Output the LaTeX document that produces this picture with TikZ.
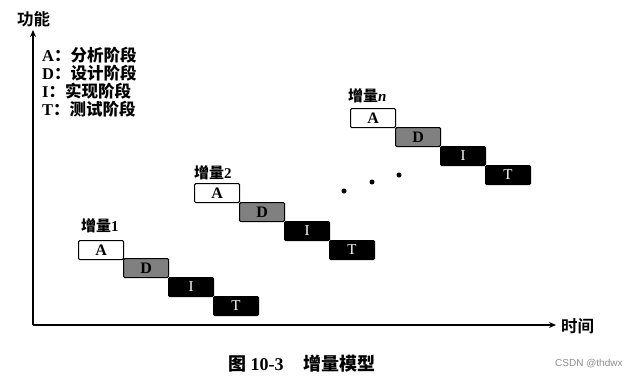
\documentclass[tikz,border=0pt]{standalone}
\usepackage{fontspec}
\setmainfont{Liberation Serif}
\newfontfamily\cjk{Noto Sans CJK SC}
\newfontfamily\cjkb{Noto Sans CJK SC Bold}
\newfontfamily\wm{Liberation Sans}
\usetikzlibrary{arrows.meta}
\begin{document}
\begin{tikzpicture}[x=1pt,y=-1pt,
  phase/.style={draw=black,line width=1.1pt,rounded corners=1.2pt,minimum width=45pt,minimum height=19pt,inner sep=0pt,anchor=north west,font=\fontsize{16}{16}\selectfont\bfseries},
  pa/.style={phase,fill=white},
  pd/.style={phase,fill=black!50},
  pi/.style={phase,fill=black,text=white,font=\fontsize{15}{15}\selectfont},
  inclabel/.style={anchor=south west,inner sep=0pt,font=\fontsize{15}{15}\selectfont\bfseries},
  axis/.style={line width=1.6pt,-{Stealth[length=7pt,width=6pt]}},
  dot/.style={circle,fill=black,inner sep=0pt,minimum size=5pt}]
\useasboundingbox (0,0) rectangle (628,381);
% axes
\coordinate (o) at (33,325);
\coordinate (ytip) at (33,30);
\coordinate (xtip) at (556,325);
\draw[axis] (o) -- (ytip);
\draw[axis] (o) -- (xtip);
\node[font=\cjkb\fontsize{16.5}{16.5}\selectfont,anchor=west,inner sep=0pt] (ylab) at (17,19) {功能};
\node[font=\cjkb\fontsize{16.5}{16.5}\selectfont,anchor=west,inner sep=0pt] (xlab) at (561,326) {时间};
% legend
\node[anchor=north west,inner sep=0pt,align=left,font=\fontsize{16.5}{18}\selectfont\bfseries] (legend) at (42,47)
  {A\cjkb：分析阶段\\D\cjkb：设计阶段\\I\cjkb：实现阶段\\T\cjkb：测试阶段};
% increment 1
\node[inclabel] (l1) at (81,233) {\cjkb 增量\rmfamily 1};
\node[pa] (a1) at (78,240) {A};
\node[pd] (d1) at (123,258) {D};
\node[pi] (i1) at (168,277) {I};
\node[pi] (t1) at (213,296) {T};
% increment 2
\node[inclabel] (l2) at (194,180) {\cjkb 增量\rmfamily 2};
\node[pa] (a2) at (194,183) {A};
\node[pd] (d2) at (239,202) {D};
\node[pi] (i2) at (284,221) {I};
\node[pi] (t2) at (329,240) {T};
% increment n
\node[inclabel] (ln) at (348,103) {\cjkb 增量\rmfamily\itshape n};
\node[pa] (an) at (350,108) {A};
\node[pd] (dn) at (395,127) {D};
\node[pi] (in) at (440,146) {I};
\node[pi] (tn) at (485,165) {T};
% dots
\node[dot] (p1) at (344,191) {};
\node[dot] (p2) at (372,182) {};
\node[dot] (p3) at (399,175) {};
% caption
\node[anchor=west,inner sep=0pt,font=\fontsize{18}{18}\selectfont\bfseries] (cap) at (228,364) {\cjkb 图\rmfamily\ 10-3\hspace{20pt}\cjkb 增量模型};
\node[anchor=west,inner sep=0pt,font=\wm\fontsize{10}{10}\selectfont,text=black!45] (wm) at (555,364) {CSDN @thdwx};
\end{tikzpicture}
\end{document}
